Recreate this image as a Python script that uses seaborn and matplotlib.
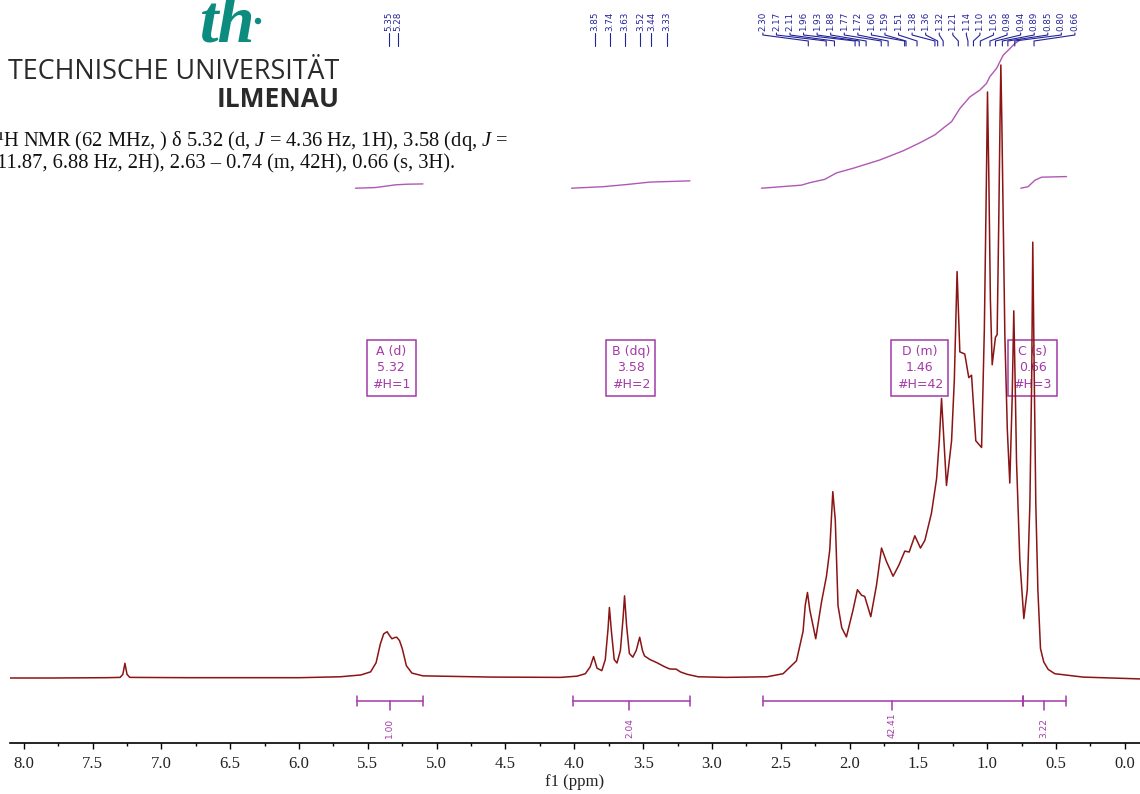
import numpy as np
import pandas as pd
import matplotlib
matplotlib.use("Agg")
import matplotlib.pyplot as plt
from matplotlib.patches import Ellipse
import seaborn as sns

sns.set_theme(style="white")
plt.rcParams["font.family"] = ["Liberation Serif", "DejaVu Sans"]
plt.rcParams["mathtext.fontset"] = "custom"
plt.rcParams["mathtext.rm"] = "Liberation Serif"
plt.rcParams["mathtext.it"] = "Liberation Serif:italic"

# ---- 1H spectrum trace: chemical shift (ppm) and relative intensity (%) ----
shift = [8.10, 7.80, 7.40, 7.30, 7.28, 7.265, 7.25, 7.23, 6.80, 6.00, 5.70, 5.55, 5.48, 5.44, 5.41,
         5.385, 5.36, 5.345, 5.325, 5.305, 5.29, 5.27, 5.25, 5.22, 5.18, 5.10, 4.60, 4.10,
         3.98, 3.92, 3.885, 3.86, 3.835, 3.80, 3.775, 3.755, 3.745, 3.73, 3.71, 3.69, 3.665,
         3.645, 3.635, 3.62, 3.60, 3.575, 3.55, 3.525, 3.505, 3.49, 3.45, 3.40, 3.35, 3.31,
         3.29, 3.26, 3.23, 3.18, 3.10, 3.00, 2.90, 2.725, 2.60, 2.483, 2.386, 2.338, 2.322,
         2.306, 2.289, 2.246, 2.204, 2.168, 2.144, 2.122, 2.104, 2.084, 2.057, 2.023, 1.975,
         1.943, 1.913, 1.890, 1.846, 1.804, 1.768, 1.732, 1.684, 1.642, 1.599, 1.567, 1.526,
         1.485, 1.453, 1.405, 1.368, 1.348, 1.332, 1.315, 1.296, 1.259, 1.239, 1.219, 1.199,
         1.163, 1.134, 1.114, 1.083, 1.041, 1.021, 1.006, 0.998, 0.988, 0.977, 0.964, 0.940,
         0.928, 0.916, 0.907, 0.901, 0.894, 0.884, 0.872, 0.854, 0.836, 0.819, 0.807, 0.796,
         0.787, 0.763, 0.734, 0.709, 0.690, 0.677, 0.669, 0.658, 0.647, 0.632, 0.613, 0.589,
         0.557, 0.509, 0.305, -0.11]
intensity = [0.0, 0.0, 0.05, 0.1, 0.6, 2.4, 0.6, 0.1, 0.05, 0.05, 0.2, 0.5, 1.0, 2.5, 5.5,
             7.2, 7.55, 7.0, 6.4, 6.6, 6.65, 6.1, 4.8, 2.0, 0.8, 0.35, 0.15, 0.1,
             0.3, 0.7, 1.8, 3.5, 1.6, 1.2, 3.0, 8.0, 11.5, 7.5, 3.0, 2.45, 4.5,
             10.0, 13.4, 8.5, 4.0, 3.4, 4.5, 6.65, 4.5, 3.6, 3.0, 2.5, 1.9, 1.5,
             1.45, 1.45, 1.0, 0.6, 0.2, 0.15, 0.1, 0.15, 0.2, 0.7, 2.8, 7.6, 11.9,
             13.95, 11.1, 6.4, 12.4, 16.6, 20.9, 30.4, 25.8, 11.8, 8.2, 6.7, 11.1,
             14.4, 13.5, 13.3, 10.0, 15.2, 21.2, 19.0, 16.6, 18.4, 20.7, 20.55, 23.2,
             21.2, 22.45, 26.9, 32.5, 38.8, 45.6, 38.8, 31.4, 38.7, 48.6, 66.3, 53.2,
             52.85, 49.0, 49.4, 38.7, 37.6, 56.8, 81.2, 95.6, 81.2, 61.7, 51.1, 55.6,
             56.0, 74.7, 91.0, 100.0, 91.0, 74.7, 56.0, 40.5, 31.8, 45.4, 59.9, 47.0,
             35.2, 19.2, 9.7, 14.4, 28.4, 48.6, 71.1, 48.6, 28.4, 14.4, 4.8, 2.6,
             1.4, 0.7, 0.15, -0.15]

# ---- integral curves (ppm, height on the same scale) ----
integral_a_ppm = [5.59, 5.45, 5.38, 5.30, 5.22, 5.10]
integral_a_h = [79.9, 80.0, 80.2, 80.45, 80.55, 80.6]
integral_b_ppm = [4.02, 3.79, 3.62, 3.45, 3.16]
integral_b_h = [79.9, 80.15, 80.5, 80.9, 81.1]
integral_d_ppm = [2.64, 2.35, 2.289, 2.18, 2.095, 1.975, 1.781, 1.611, 1.49, 1.381, 1.32,
                  1.259, 1.199, 1.126, 1.054, 1.005, 0.981, 0.932, 0.884, 0.848, 0.799, 0.756]
integral_d_h = [79.9, 80.4, 80.8, 81.35, 82.4, 83.15, 84.5, 86.0, 87.3, 88.6, 89.7,
                90.75, 92.9, 94.8, 95.9, 97.0, 98.1, 99.45, 101.6, 102.4, 103.5, 104.2]
integral_c_ppm = [0.756, 0.703, 0.654, 0.605, 0.424]
integral_c_h = [79.9, 80.15, 81.2, 81.7, 81.8]

# integration ranges and values
int_start = [5.58, 4.01, 2.63, 0.74]
int_end = [5.10, 3.16, 0.74, 0.43]
int_center = [5.34, 3.60, 1.69, 0.59]
int_value = ["1.00", "2.04", "42.41", "3.22"]

# multiplet annotations
mult_label = ["A (d)", "B (dq)", "D (m)", "C (s)"]
mult_shift = ["5.32", "3.58", "1.46", "0.66"]
mult_nh = [1, 2, 42, 3]
mult_pos = [5.33, 3.59, 1.49, 0.67]

# peak picking
peaks_a = [5.35, 5.28]
peaks_b = [3.85, 3.74, 3.63, 3.52, 3.44, 3.33]
peaks_d = [2.30, 2.17, 2.11, 1.96, 1.93, 1.88, 1.77, 1.72, 1.60, 1.59, 1.51, 1.38,
           1.36, 1.32, 1.21, 1.14, 1.10, 1.05, 0.98, 0.94, 0.89, 0.85, 0.80, 0.66]

description_1 = "¹H NMR (62 MHz, ) δ 5.32 (d, $J$ = 4.36 Hz, 1H), 3.58 (dq, $J$ ="
description_2 = "11.87, 6.88 Hz, 2H), 2.63 – 0.74 (m, 42H), 0.66 (s, 3H)."

spec_color = "#8b1414"
purple = "#a33aa8"
blue = "#23239a"
teal = "#0b8c7e"

W, H = 1140, 794
fig = plt.figure(figsize=(W / 100, H / 100), dpi=100)
ax = fig.add_axes([10 / W, 51 / H, 1130 / W, 743 / H])

def py(y):
    # pixel row -> intensity scale used on the axes
    return (678 - y) / 6.13

df = pd.DataFrame({"ppm": shift, "I": intensity})
sns.lineplot(data=df, x="ppm", y="I", sort=False, estimator=None,
             color=spec_color, lw=1.1, ax=ax, zorder=3)

for xs, ys in [(integral_a_ppm, integral_a_h), (integral_b_ppm, integral_b_h),
               (integral_d_ppm, integral_d_h), (integral_c_ppm, integral_c_h)]:
    ax.plot(xs, ys, color=purple, lw=1.0, alpha=0.85, zorder=2)

# integration brackets
yb = py(701)
for s, e, c, v in zip(int_start, int_end, int_center, int_value):
    ax.plot([s, e], [yb, yb], color=purple, lw=1.1, clip_on=False)
    for xe in (s, e):
        ax.plot([xe, xe], [py(696), py(706)], color=purple, lw=1.1, clip_on=False)
    ax.plot([c, c], [yb, py(710)], color=purple, lw=1.1, clip_on=False)
    ax.text(c, py(738), v, rotation=90, ha="center", va="bottom", color=purple,
            fontsize=6.5, family="DejaVu Sans")

# multiplet boxes
for lab, sh, nh, xp in zip(mult_label, mult_shift, mult_nh, mult_pos):
    ax.text(xp, py(368), f"{lab}\n{sh}\n#H={nh}", ha="center", va="center",
            color=purple, fontsize=9, family="DejaVu Sans", linespacing=1.32, zorder=1,
            bbox=dict(boxstyle="square,pad=0.42", fc="none", ec=purple, lw=1.1))

# peak labels with connectors
label_x_d = np.linspace(2.630, 0.363, len(peaks_d))
groups = [(peaks_a, peaks_a), (peaks_b, peaks_b), (peaks_d, label_x_d)]
for pk, lx in groups:
    for p, l in zip(pk, lx):
        ax.plot([l, l, p, p], [py(33), py(35), py(41), py(46)], color=blue, lw=0.8,
                clip_on=False)
        ax.text(l, py(31.5), f"{p:.2f}", rotation=90, ha="center", va="bottom",
                color=blue, fontsize=6.3, family="DejaVu Sans")

ax.set_xlim(8.10, -0.11)
ax.set_ylim(py(743), py(0))
for sp in ["left", "right", "top"]:
    ax.spines[sp].set_visible(False)
ax.spines["bottom"].set_color("black")
ax.spines["bottom"].set_linewidth(1.2)
ax.set_yticks([])
ax.set_xticks(np.arange(0, 8.01, 0.5))
ax.set_xticks(np.arange(0.25, 8.0, 0.5), minor=True)
ax.set_xticklabels([f"{t:.1f}" for t in np.arange(0, 8.01, 0.5)])
ax.tick_params(axis="x", which="both", bottom=True, direction="out", color="black",
               width=1.0, labelsize=12, pad=5, labelcolor="#222222")
ax.tick_params(axis="x", which="major", length=4)
ax.tick_params(axis="x", which="minor", length=2.5)
ax.set_xlabel("f1 (ppm)", fontsize=12, labelpad=2, color="#222222")
ax.set_ylabel("")

# university logo
fig.text(228 / W, 1 - 25 / H, "th", ha="center", va="center", color=teal,
         fontsize=48, family="Liberation Serif", style="italic", weight="bold")
fig.add_artist(Ellipse((258 / W, 1 - 21 / H), 5 / W, 5 / H, transform=fig.transFigure,
                       color=teal))
fig.text(8 / W, 1 - 79 / H, "TECHNISCHE UNIVERSITÄT", ha="left", va="baseline",
         color="#2a2a2a", fontsize=19.4, family="Open Sans")
fig.text(340 / W, 1 - 107 / H, "ILMENAU", ha="right", va="baseline",
         color="#2a2a2a", fontsize=19, family="Open Sans", weight="bold")

fig.text(-3 / W, 1 - 146 / H, description_1, ha="left", va="baseline",
         color="#111111", fontsize=14.8)
fig.text(-3 / W, 1 - 168 / H, description_2, ha="left", va="baseline",
         color="#111111", fontsize=14.8)

fig.savefig("out.png", dpi=100)
